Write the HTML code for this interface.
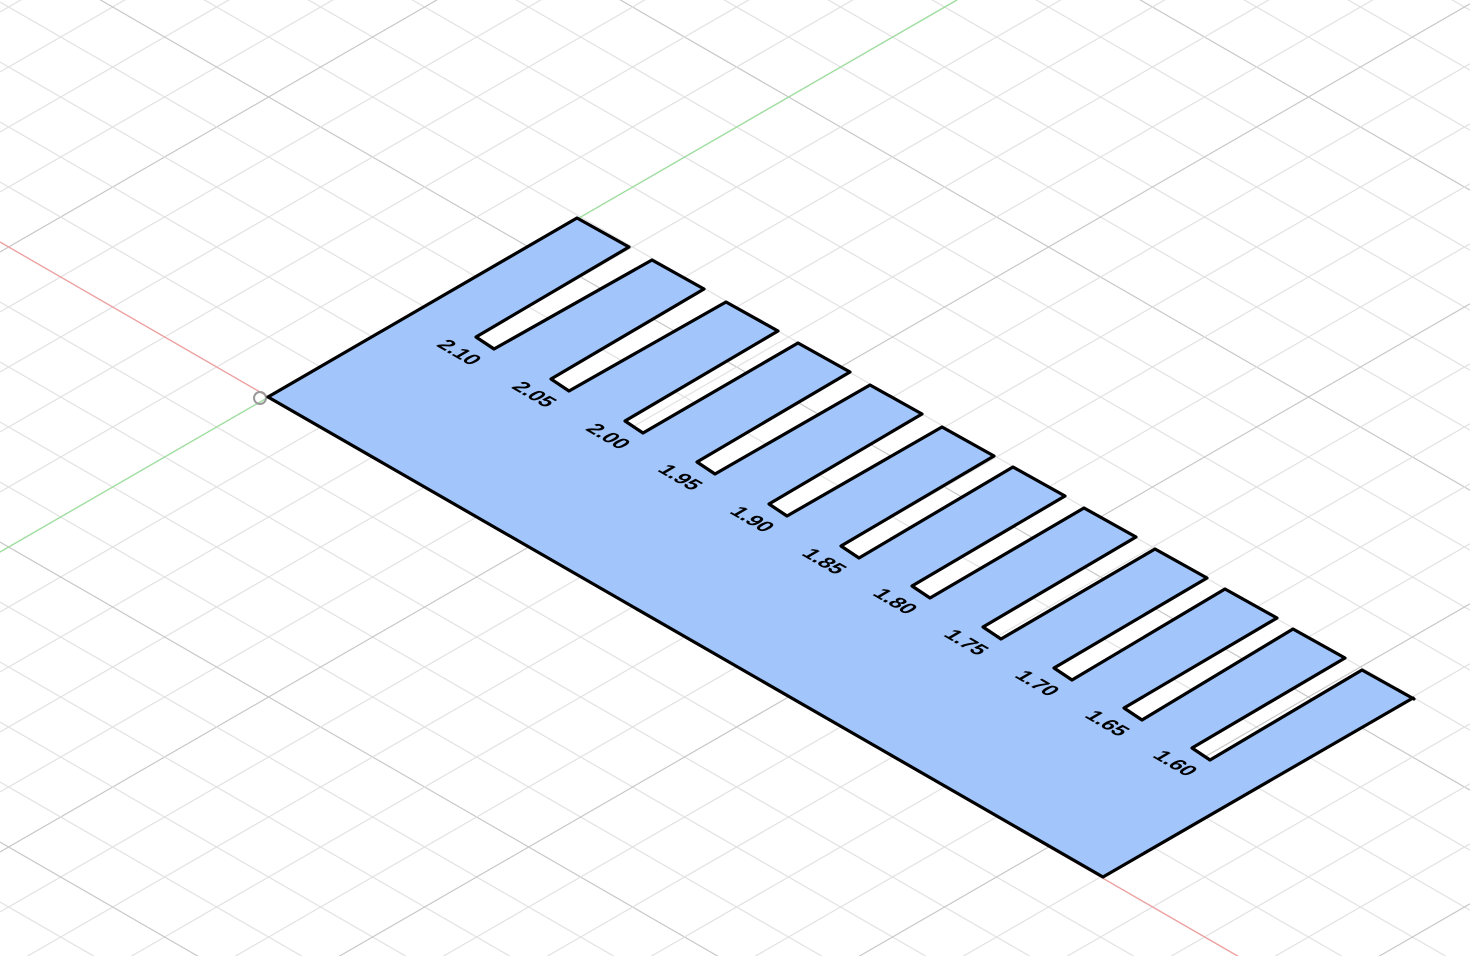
<!DOCTYPE html>
<html><head><meta charset="utf-8"><style>html,body{margin:0;padding:0;background:#fff;width:1470px;height:956px;overflow:hidden}svg{display:block}</style></head>
<body>
<svg id="cv" width="1470" height="956" viewBox="0 0 1470 956">
<g id="grid"></g>
<line x1="0" y1="242" x2="1470" y2="1090" stroke="#f0a0a0" stroke-width="1.3"/>
<line x1="0" y1="552" x2="957" y2="0" stroke="#9ee09e" stroke-width="1.3"/>
<circle cx="260" cy="398" r="6" fill="none" stroke="#999" stroke-width="2"/>
<path id="plate" fill="#a2c6fb" stroke="#000" stroke-width="3.2" stroke-linejoin="round"/>
<g id="labels"></g>
</svg>
<script>
const slotLabels=["2.10","2.05","2.00","1.95","1.90","1.85","1.80","1.75","1.70","1.65","1.60"];
const toothTopX=[577,652,726,798,870,942,1013,1084,1155,1225,1293,1362];
const toothTopY=[218,260,302,343,385,427,467,508,549,589,629,670];
const NS="http://www.w3.org/2000/svg";
const g=document.getElementById('grid');
function ln(x1,y1,x2,y2,c){const l=document.createElementNS(NS,'line');l.setAttribute('x1',x1);l.setAttribute('y1',y1);l.setAttribute('x2',x2);l.setAttribute('y2',y2);l.setAttribute('stroke',c);l.setAttribute('stroke-width',1.2);


g.appendChild(l);}
const s=0.577;
for(let k=-30;k<30;k++){
  const bA=242+60*k; const cA=(k%5===0)?'#c8c8c8':'#e2e2e2';
  ln(0,bA,1470,bA+s*1470,cA);
  const bB=552+60*k; const cB=(k%5===0)?'#c8c8c8':'#e2e2e2';
  ln(0,bB,1470,bB-s*1470,cB);
}
let d="M268,397 ";
const n=toothTopX.length;
for(let i=0;i<n;i++){
  const tx=toothTopX[i],ty=toothTopY[i];
  const rx=tx+52,ry=ty+29;
  d+="L"+tx+","+ty+" L"+rx+","+ry+" ";
  if(i<n-1){
    const ax=rx-153,ay=ry+90;
    d+="L"+ax+","+ay+" L"+(ax+18)+","+(ay+12)+" ";
  }
}
d+="L1413,698 L1103,877 Z";
document.getElementById('plate').setAttribute('d',d);
const lg=document.getElementById('labels');
for(let i=0;i<slotLabels.length;i++){
  const ax=toothTopX[i]+52-153-18, ay=toothTopY[i]+29+90+16;
  const t=document.createElementNS(NS,'text');
  t.setAttribute('transform','matrix(0.866,0.5,-0.866,0.5,'+ax+','+ay+')');
  t.setAttribute('text-anchor','middle');
  t.setAttribute('dominant-baseline','middle');
  t.setAttribute('font-family','Liberation Sans, sans-serif');
  t.setAttribute('font-weight','bold');
  t.setAttribute('font-size','21');
  t.setAttribute('fill','#000');
  t.textContent=slotLabels[i];
  
  
  lg.appendChild(t);
}
</script>
</body></html>
